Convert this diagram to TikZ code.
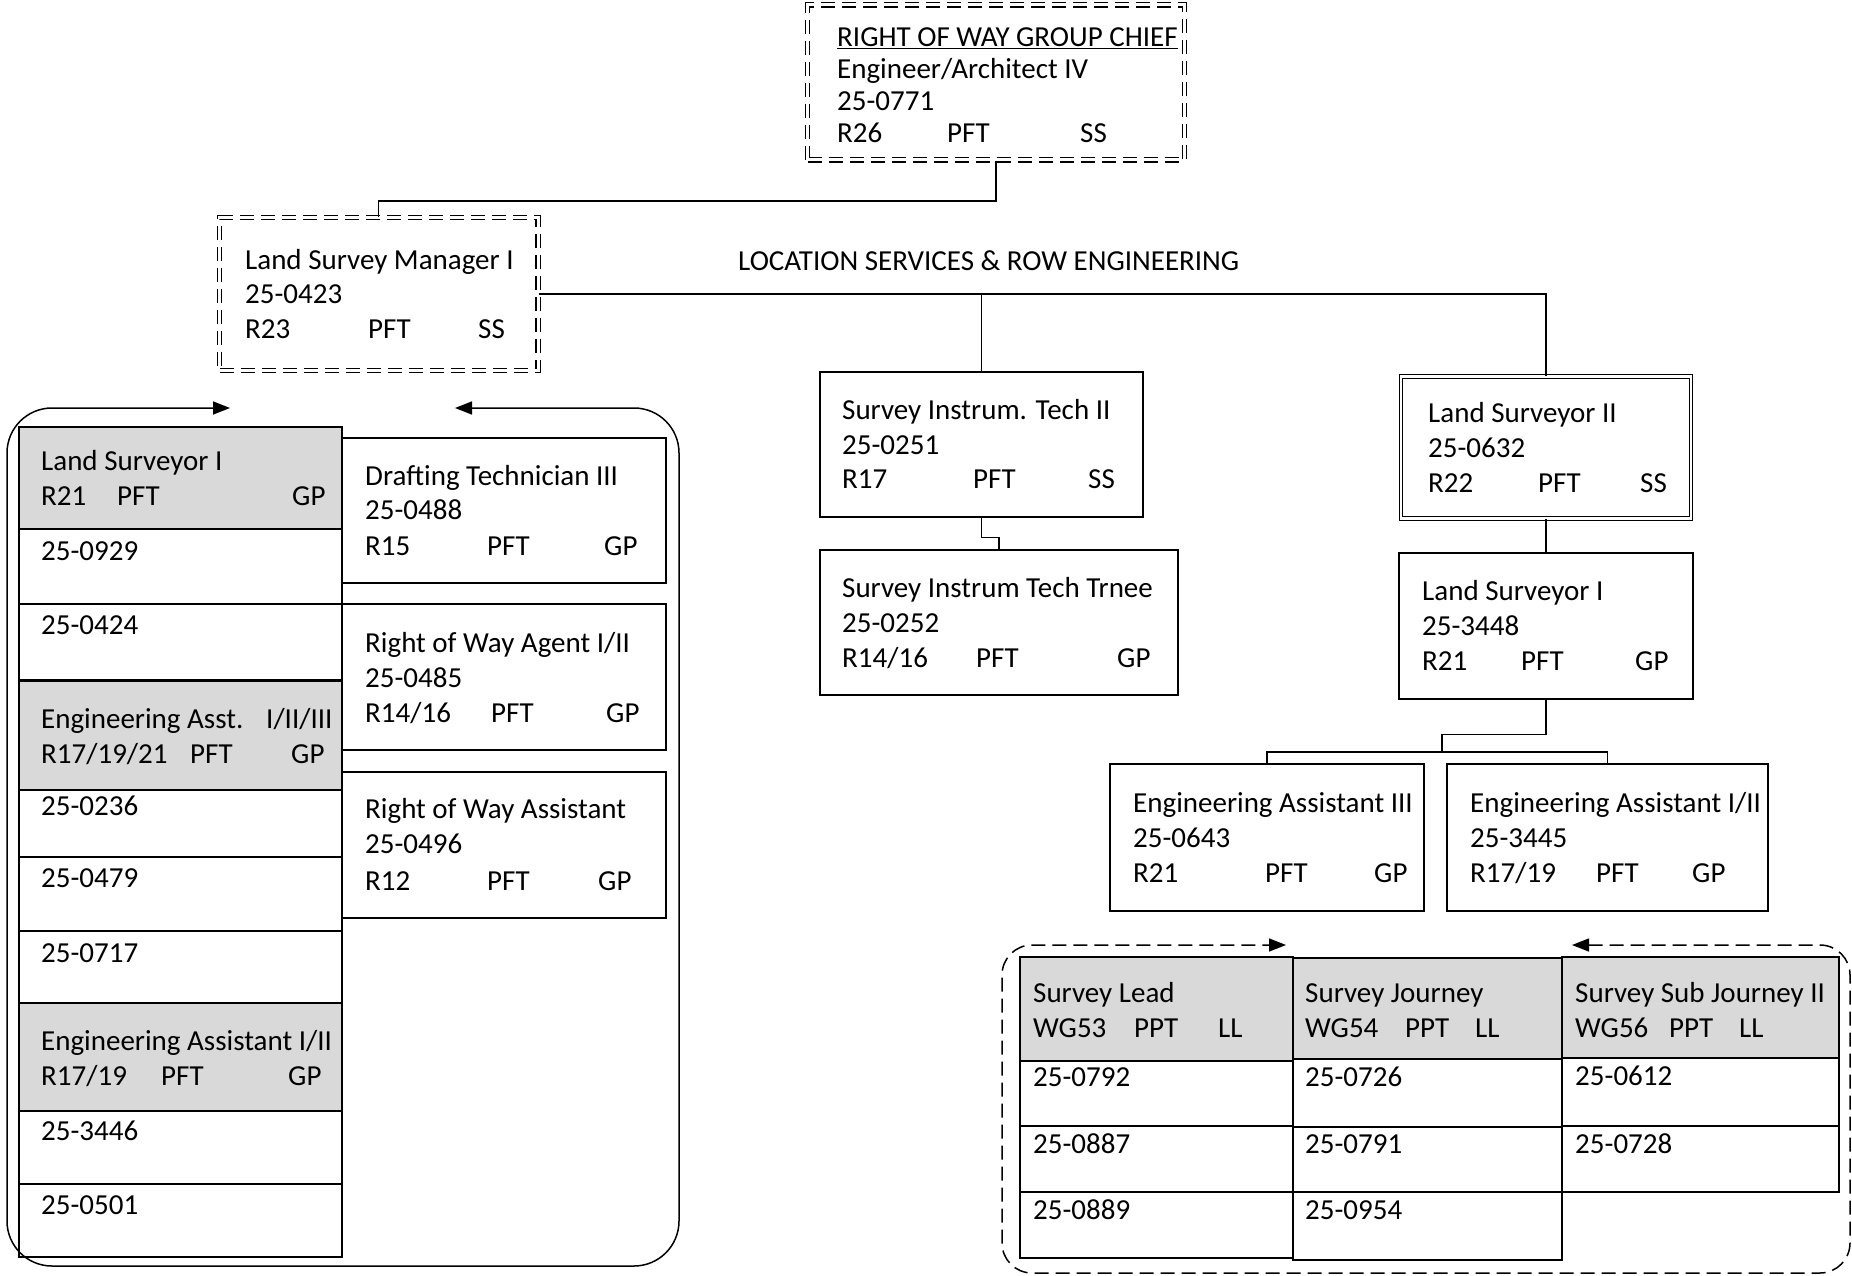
\documentclass[tikz,border=0pt]{standalone}
\usepackage{fontspec}
\setmainfont{Carlito}
\usetikzlibrary{fit,arrows.meta}
\definecolor{cellgray}{HTML}{D9D9D9}
\newcounter{tln}
\newcommand\tline[3]{\stepcounter{tln}\node[txt] (tl\number\value{tln}) at (#1,#2) {#3};}
\newcommand\trow[7]{\tline{#1}{#2}{#3}\tline{#4}{#2}{#5}\tline{#6}{#2}{#7}}
\begin{document}
\begin{tikzpicture}[x=1pt,y=-1pt,
  txt/.style={anchor=base west, inner sep=0pt, font=\fontsize{29}{35}\selectfont},
  box/.style={draw, line width=1.5pt, inner sep=0pt, fit={#1}},
  cell/.style={draw, line width=1.8pt, inner sep=0pt, fit={#1}},
  gcell/.style={draw, fill=cellgray, line width=1.8pt, inner sep=0pt, fit={#1}},
  ddash/.style={draw, line width=1.1pt, double, double distance=3pt, dash pattern=on 14pt off 7pt, inner sep=0pt, fit={#1}},
  dsolid/.style={draw, line width=1.1pt, double, double distance=2.5pt, inner sep=0pt, fit={#1}},
  conn/.style={draw, line width=1.2pt},
  frame/.style={draw, line width=1.5pt, {Triangle[length=17pt,width=13pt]}-{Triangle[length=17pt,width=13pt]}},
]
\useasboundingbox (0,0) rectangle (1852,1276);

% ---------- top boxes ----------
\node[ddash={(807.5,5)(1184.5,160)}] (chief) {};
\node[ddash={(219.5,217.5)(538,370.5)}] (lsm) {};
\node[box={(820,372)(1143,517)}] (sit2) {};
\node[box={(820,550)(1178,695)}] (sitt) {};
\node[dsolid={(1401,376.5)(1691,518.5)}] (ls2) {};
\node[box={(1399,553)(1693,699)}] (ls1r) {};
\node[box={(1110,764)(1424,911)}] (ea3) {};
\node[box={(1447,764)(1768,911)}] (ea12) {};

% ---------- connectors ----------
\coordinate (k1) at (0,201);
\coordinate (j1) at (1442,752);
\draw[conn] (chief.south) -- (chief.south |- k1) -| (lsm.north);
\draw[conn] (lsm.east) -| (sit2.north);
\draw[conn] (lsm.east) -| (ls2.north);
\draw[conn] (sit2.south) -- ++(0,20) -| (sitt.north);
\draw[conn] (ls2.south) -- (ls1r.north);
\draw[conn] (ls1r.south) -- ++(0,35) -| (j1);
\draw[conn] (ea3.north) |- (j1) -| (ea12.north);

% ---------- left group ----------
\coordinate (la) at (455,408);
\coordinate (lb) at (230,408);
\draw[frame, rounded corners=45pt] (la) -- (679,408) -- (679,1266) -- (7,1266) -- (7,408) -- (lb);

\node[gcell={(19,427)(342,529)}] (lh1) {};
\node[cell={(19,529)(342,604)}] (lc1) {};
\node[cell={(19,604)(342,680)}] (lc2) {};
\node[gcell={(19,681)(342,790)}] (lh2) {};
\node[cell={(19,790)(342,857)}] (lc3) {};
\node[cell={(19,857)(342,931)}] (lc4) {};
\node[cell={(19,931)(342,1003)}] (lc5) {};
\node[gcell={(19,1003)(342,1111)}] (lh3) {};
\node[cell={(19,1111)(342,1184)}] (lc6) {};
\node[cell={(19,1184)(342,1257)}] (lc7) {};

\node[box={(342,438)(666,583)}] (dt) {};
\node[box={(342,604)(666,750)}] (rwa) {};
\node[box={(342,772)(666,918)}] (rwas) {};

% ---------- right group ----------
\coordinate (ra) at (1572,945);
\coordinate (rb) at (1286,945);
\draw[frame, dash pattern=on 14pt off 7pt, rounded corners=30pt] (ra) -- (1850,945) -- (1850,1273) -- (1002,1273) -- (1002,945) -- (rb);

\node[gcell={(1020,957)(1293,1061)}] (sh1) {};
\node[cell={(1020,1061)(1293,1126)}] (s11) {};
\node[cell={(1020,1126)(1293,1192)}] (s12) {};
\node[cell={(1020,1192)(1293,1258)}] (s13) {};
\node[gcell={(1293,958)(1562,1059)}] (sh2) {};
\node[cell={(1293,1059)(1562,1127)}] (s21) {};
\node[cell={(1293,1127)(1562,1192)}] (s22) {};
\node[cell={(1293,1192)(1562,1260)}] (s23) {};
\node[gcell={(1562,957)(1839,1058)}] (sh3) {};
\node[cell={(1562,1058)(1839,1126)}] (s31) {};
\node[cell={(1562,1126)(1839,1192)}] (s32) {};

% ---------- texts ----------
\tline{837}{47}{\underline{RIGHT OF WAY GROUP CHIEF}}
\tline{837}{79}{Engineer/Architect IV}
\tline{837}{111}{25-0771}
\trow{837}{143}{R26}{947}{PFT}{1080}{SS}

\tline{245}{269}{Land Survey Manager I}
\tline{245}{303}{25-0423}
\trow{245}{338}{R23}{368}{PFT}{478}{SS}

\tline{738}{270}{LOCATION SERVICES \& ROW ENGINEERING}

\tline{842}{419}{Survey Instrum. Tech II}
\tline{842}{454}{25-0251}
\trow{842}{488}{R17}{973}{PFT}{1088}{SS}

\tline{842}{597}{Survey Instrum Tech Trnee}
\tline{842}{632}{25-0252}
\trow{842}{667}{R14/16}{976}{PFT}{1117}{GP}

\tline{1428}{422}{Land Surveyor II}
\tline{1428}{457}{25-0632}
\trow{1428}{492}{R22}{1538}{PFT}{1640}{SS}

\tline{1422}{600}{Land Surveyor I}
\tline{1422}{635}{25-3448}
\trow{1422}{670}{R21}{1521}{PFT}{1635}{GP}

\tline{1133}{812}{Engineering Assistant III}
\tline{1133}{847}{25-0643}
\trow{1133}{882}{R21}{1265}{PFT}{1374}{GP}

\tline{1470}{812}{Engineering Assistant I/II}
\tline{1470}{847}{25-3445}
\trow{1470}{882}{R17/19}{1596}{PFT}{1692}{GP}

% left column
\tline{41}{470}{Land Surveyor I}
\trow{41}{505}{R21}{117}{PFT}{292}{GP}
\tline{41}{560}{25-0929}
\tline{41}{634}{25-0424}
\tline{41}{728}{Engineering Asst.}
\tline{266}{728}{I/II/III}
\trow{41}{763}{R17/19/21}{190}{PFT}{291}{GP}
\tline{41}{815}{25-0236}
\tline{41}{887}{25-0479}
\tline{41}{962}{25-0717}
\tline{41}{1050}{Engineering Assistant I/II}
\trow{41}{1085}{R17/19}{161}{PFT}{288}{GP}
\tline{41}{1140}{25-3446}
\tline{41}{1214}{25-0501}

\tline{365}{485}{Drafting Technician III}
\tline{365}{519}{25-0488}
\trow{365}{555}{R15}{487}{PFT}{604}{GP}
\tline{365}{652}{Right of Way Agent I/II}
\tline{365}{687}{25-0485}
\trow{365}{722}{R14/16}{491}{PFT}{606}{GP}
\tline{365}{818}{Right of Way Assistant}
\tline{365}{853}{25-0496}
\trow{365}{890}{R12}{487}{PFT}{598}{GP}

% bottom right
\tline{1033}{1002}{Survey Lead}
\trow{1033}{1037}{WG53}{1134}{PPT}{1218}{LL}
\tline{1033}{1086}{25-0792}
\tline{1033}{1153}{25-0887}
\tline{1033}{1219}{25-0889}
\tline{1305}{1002}{Survey Journey}
\trow{1305}{1037}{WG54}{1405}{PPT}{1475}{LL}
\tline{1305}{1086}{25-0726}
\tline{1305}{1153}{25-0791}
\tline{1305}{1219}{25-0954}
\tline{1575}{1002}{Survey Sub Journey II}
\trow{1575}{1037}{WG56}{1669}{PPT}{1739}{LL}
\tline{1575}{1085}{25-0612}
\tline{1575}{1153}{25-0728}
\end{tikzpicture}
\end{document}
